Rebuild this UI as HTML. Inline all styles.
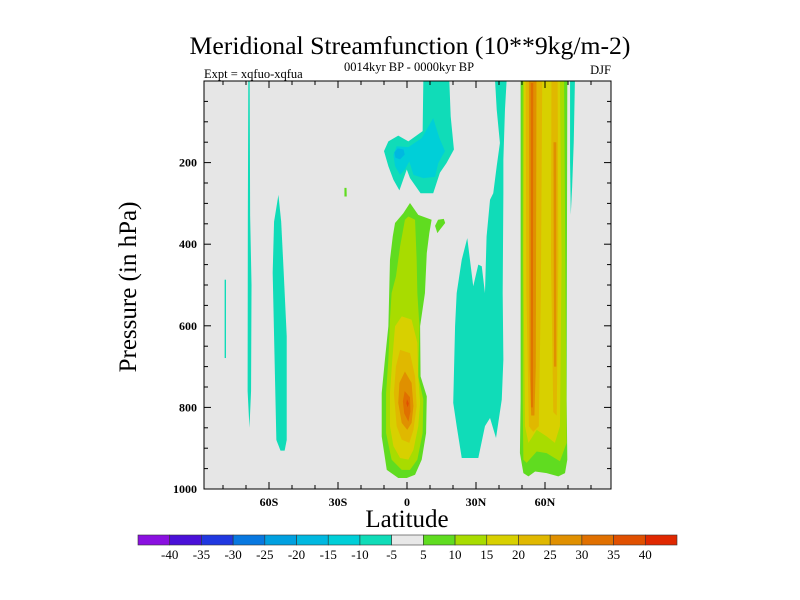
<!DOCTYPE html>
<html><head><meta charset="utf-8"><style>
body{margin:0;background:#fff}
svg{display:block;font-family:"Liberation Serif",serif}
</style></head><body>
<svg id="c" width="800" height="600" xmlns="http://www.w3.org/2000/svg">
<text x="410" y="54" font-size="25.7" text-anchor="middle">Meridional Streamfunction (10**9kg/m-2)</text>
<text x="409" y="71" font-size="12.5" text-anchor="middle">0014kyr BP - 0000kyr BP</text>
<text x="204" y="78" font-size="12.5">Expt = xqfuo-xqfua</text>
<text x="611" y="74" font-size="12.5" text-anchor="end">DJF</text>
<rect x="204" y="81" width="407" height="408" fill="#e6e6e6"/>
<g id="fills"></g>
<g id="axes"></g>
<text transform="translate(136,287) rotate(-90)" font-size="25" text-anchor="middle">Pressure (in hPa)</text>
<text x="407" y="527" font-size="25" text-anchor="middle">Latitude</text>
<g id="cbar"></g>
</svg>
<script>
const levels=[-40,-35,-30,-25,-20,-15,-10,-5,5,10,15,20,25,30,35,40];
const colors=["#8a10e0","#4a10d8","#2038e0","#0878e0","#00a0e0","#00b8e0","#00cfd8","#10dcb8","#e8e8e8","#60dc20","#a8dc00","#d8d000","#e0b800","#e09000","#e07000","#e05000","#e02800"];
const xTicks=[-60,-30,0,30,60];
const xTickLabels=["60S","30S","0","30N","60N"];
const yTicks=[200,400,600,800,1000];
// contour regions: value and [lat,p] outline
const regionValues=[-7,-7,-7,7,-7,-12,-17,7,7,12,17,22,27,32,37,-7,-7,7,12,17,22,22,27,27,32];
const regionShapes=[
[[-79.3,487],[-78.7,487],[-78.7,679],[-79.3,679]],
[[-69,0],[-68.4,0],[-68.2,330],[-67.6,500],[-67.8,760],[-68.5,850],[-69.3,760],[-69.2,330]],
[[-55.9,279],[-54.7,345],[-53.6,470],[-52.3,625],[-52.3,880],[-53.2,906],[-55,906],[-56.8,880],[-58.4,470],[-57.8,345]],
[[-27.2,262],[-26.3,262],[-26.2,283],[-27.2,283]],
[[7.1,0],[18.4,0],[19,87],[20.4,168],[17.2,201],[14.3,225],[11.4,275],[5.9,275],[1.3,238],[-0.1,217],[-3.3,268],[-5.9,242],[-8.1,209],[-10,172],[-8.1,148],[-3.8,134],[0.6,148],[6.8,123]],
[[-5.9,181],[-4.5,160],[0.6,162],[6.4,140],[11.4,91],[14.1,140],[16.5,172],[13.6,201],[12.2,235],[7.1,238],[2.8,230],[1,197],[-0.9,217],[-3,230],[-5.2,209]],
[[-5.5,175],[-4,165],[-1.5,168],[-1,180],[-3,192],[-5,188]],
[[1.3,299],[4.9,328],[10.7,340],[9.7,373],[8.6,422],[7.8,520],[5.7,601],[5.9,724],[8.6,773],[8.3,863],[6.4,928],[3.5,965],[-0.1,973],[-3.8,973],[-8.8,953],[-11,871],[-11,765],[-9.6,683],[-8.1,601],[-7.4,438],[-6.2,381],[-5.2,348],[-1.6,324]],
[[12.2,355],[13.5,340],[16,338],[16.6,348],[14.5,363],[13.2,373]],
[[0.6,332],[3.5,340],[4.2,438],[4.5,520],[5.4,601],[4.9,724],[7.1,781],[6.8,863],[4.5,928],[1.3,953],[-2.3,953],[-6.7,928],[-9.1,863],[-9.1,765],[-8.1,683],[-7.4,585],[-6.7,520],[-4.8,479],[-3,405],[-0.9,340]],
[[-2.3,577],[2,585],[4.5,642],[4.9,724],[5.7,789],[4.9,846],[2.8,904],[0.6,928],[-3,924],[-5.9,895],[-7.4,846],[-7.4,765],[-6.4,683],[-5.2,601]],
[[-3,659],[1.3,667],[3.5,724],[4.2,797],[2.8,855],[1,887],[-2.3,879],[-4.5,846],[-5.7,765],[-4.8,699]],
[[-0.9,712],[2,740],[2.8,797],[2,838],[0.1,855],[-2.3,838],[-3.8,789],[-3.3,740]],
[[-1,760],[1.3,775],[1.5,810],[0.6,835],[-1.2,815],[-1.8,785]],
[[0,780],[0.8,790],[0.3,800],[-0.3,790]],
[[38.3,0],[43.3,0],[42.6,70],[41.9,193],[41.9,275],[41.6,520],[41.9,683],[41.2,781],[38.7,875],[36.1,826],[33.9,846],[31,924],[23.8,924],[21.6,846],[20.1,789],[20.9,601],[21.6,520],[23.8,438],[26.2,385],[28.8,503],[31,450],[32.5,454],[33.9,520],[34.6,381],[36.1,291],[37.5,275],[39,209],[40.4,152],[39,70]],
[[70.9,0],[73,0],[72.5,150],[71.8,260],[71.2,328],[70.9,200]],
[[49.4,0],[69.7,0],[69.4,780],[69.7,928],[68.7,961],[65.8,969],[60.7,961],[55.7,957],[52.8,969],[50.6,961],[49.1,912],[49.4,780]],
[[50.3,0],[68.3,0],[69.4,887],[66.5,932],[60.7,912],[56.4,908],[52,936],[50.6,928],[50.3,780]],
[[50.9,0],[66.5,0],[67.2,438],[66.5,846],[64.3,887],[60.7,871],[56.4,855],[52.8,887],[51.3,846],[50.6,438]],
[[51.6,0],[58.8,0],[58.2,520],[57.3,846],[54.9,860],[53,846],[51.9,520]],
[[62.8,0],[65.5,0],[65.8,438],[65.1,820],[63.6,812],[62.6,438]],
[[53,0],[56.3,0],[56,700],[55.4,820],[54,820],[53.3,700]],
[[63.7,150],[64.9,150],[64.9,700],[63.9,700]],
[[53.8,5],[54.9,5],[54.7,800],[54,800]]
];
const NS="http://www.w3.org/2000/svg";
const X0=204,X1=611,Y0=81,Y1=489;
const xs=lat=>407+lat*2.3;
const ys=p=>Y0+(p/1000)*(Y1-Y0);
function colorFor(v){let i=0;while(i<levels.length&&v>=levels[i])i++;return colors[i];}
const fills=document.getElementById('fills');
regionShapes.forEach((shape,i)=>{
  const pg=document.createElementNS(NS,'polygon');
  pg.setAttribute('points',shape.map(q=>Math.max(X0,Math.min(X1,xs(q[0])))+','+ys(q[1])).join(' '));
  pg.setAttribute('fill',colorFor(regionValues[i]));
  
  
  fills.appendChild(pg);
});
const axes=document.getElementById('axes');
function ln(x1,y1,x2,y2,name){const l=document.createElementNS(NS,'line');l.setAttribute('x1',x1);l.setAttribute('y1',y1);l.setAttribute('x2',x2);l.setAttribute('y2',y2);l.setAttribute('stroke','#000');l.setAttribute('stroke-width','1');


axes.appendChild(l);}
function tx(x,y,s,anchor,name){const t=document.createElementNS(NS,'text');t.setAttribute('x',x);t.setAttribute('y',y);t.setAttribute('font-size','12');t.setAttribute('font-weight','bold');t.setAttribute('text-anchor',anchor);t.textContent=s;


axes.appendChild(t);}
for(let lat=-80;lat<=80;lat+=10){const x=xs(lat);const maj=lat%30===0;const L=maj?7:4;ln(x,Y1,x,Y1-L,'x-tick');ln(x,Y0,x,Y0+L,'x-tick-top');}
for(let p=50;p<1000;p+=50){const y=ys(p);const maj=p%200===0;const L=maj?7:4;ln(X0,y,X0+L,y,'y-tick');ln(X1,y,X1-L,y,'y-tick-right');}
xTicks.forEach((v,i)=>tx(xs(v),506,xTickLabels[i],'middle','x-tick-label'));
yTicks.forEach(v=>tx(X0-7,ys(v)+4,String(v),'end','y-tick-label'));
const fr=document.createElementNS(NS,'rect');fr.setAttribute('x',X0);fr.setAttribute('y',Y0);fr.setAttribute('width',X1-X0);fr.setAttribute('height',Y1-Y0);fr.setAttribute('fill','none');fr.setAttribute('stroke','#000');


axes.appendChild(fr);
const cb=document.getElementById('cbar');
const CX=138,CW=(677-138)/colors.length,CY=535,CH=10;
colors.forEach((c,i)=>{const r=document.createElementNS(NS,'rect');r.setAttribute('x',CX+i*CW);r.setAttribute('y',CY);r.setAttribute('width',CW);r.setAttribute('height',CH);r.setAttribute('fill',c);r.setAttribute('stroke','#333');r.setAttribute('stroke-width','0.6');


cb.appendChild(r);});
levels.forEach((v,i)=>{const t=document.createElementNS(NS,'text');t.setAttribute('x',CX+(i+1)*CW);t.setAttribute('y',CY+CH+14);t.setAttribute('font-size','13');t.setAttribute('text-anchor','middle');t.textContent=String(v);


cb.appendChild(t);});
</script>
</body></html>
